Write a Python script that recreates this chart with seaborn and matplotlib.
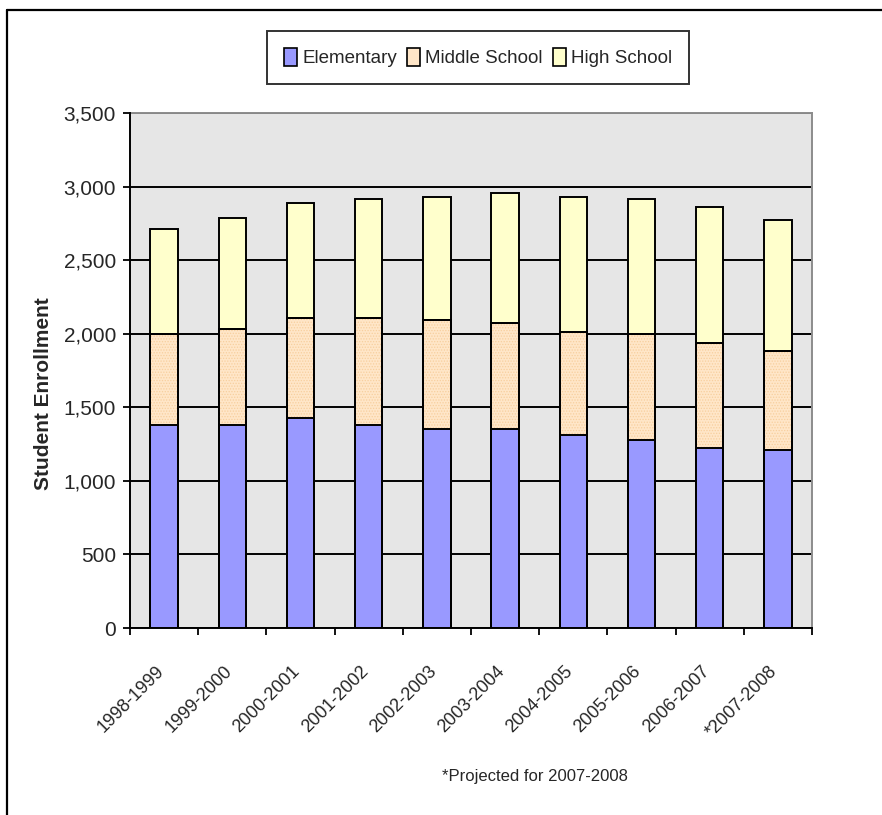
import matplotlib
matplotlib.use("Agg")
import matplotlib.pyplot as plt
import matplotlib.transforms as mtransforms
import seaborn as sns
import numpy as np
import pandas as pd
from matplotlib.patches import Patch
from matplotlib.lines import Line2D
from matplotlib.ticker import FuncFormatter

# Enrollment by school level, per school year
years = ["1998-1999", "1999-2000", "2000-2001", "2001-2002", "2002-2003",
         "2003-2004", "2004-2005", "2005-2006", "2006-2007", "*2007-2008"]
elementary = [1380, 1380, 1425, 1380, 1350, 1350, 1310, 1280, 1225, 1210]
middle_school = [620, 650, 680, 725, 740, 725, 705, 720, 710, 670]
high_school = [715, 755, 780, 810, 840, 880, 915, 915, 925, 895]
series_names = ["Elementary", "Middle School", "High School"]
y_ticks = [0, 500, 1000, 1500, 2000, 2500, 3000, 3500]

ELEM_COLOR = "#9999FF"
MID_COLOR = "#FFE6C8"
MID_DOTS = "#F7CF9E"
HIGH_COLOR = "#FFFFCC"

sns.set_theme(style="ticks")
plt.rcParams["font.family"] = ["Liberation Sans", "DejaVu Sans"]
plt.rcParams["hatch.linewidth"] = 0.6

df = pd.DataFrame({
    "Year": years,
    "Elementary": elementary,
    "Middle School": middle_school,
    "High School": high_school,
})
df["mid_top"] = df["Elementary"] + df["Middle School"]
df["total"] = df["mid_top"] + df["High School"]

W, H = 882, 815
fig = plt.figure(figsize=(W / 100, H / 100), dpi=100)
ax = fig.add_axes([130 / W, 1 - 628 / H, (812 - 130) / W, (628 - 113) / H])
ax.set_facecolor("#E6E6E6")

BAR_W = 0.4
# Stacked bars: draw cumulative heights from the top layer down
sns.barplot(data=df, x="Year", y="total", color=HIGH_COLOR, saturation=1, width=BAR_W,
            edgecolor="black", linewidth=1.4, errorbar=None, ax=ax, zorder=3)
sns.barplot(data=df, x="Year", y="mid_top", color=MID_COLOR, saturation=1, width=BAR_W,
            edgecolor="black", linewidth=1.4, errorbar=None, ax=ax, zorder=3)
# fine dotted texture on the middle-school segment
ax.bar(np.arange(len(years)), df["mid_top"], width=BAR_W - 0.02, facecolor="none",
       edgecolor=MID_DOTS, linewidth=0, hatch="......", zorder=3.5)
sns.barplot(data=df, x="Year", y="Elementary", color=ELEM_COLOR, saturation=1, width=BAR_W,
            edgecolor="black", linewidth=1.4, errorbar=None, ax=ax, zorder=4)
ax.bar(np.arange(len(years)), df["mid_top"], width=BAR_W, facecolor="none",
       edgecolor="black", linewidth=1.4, zorder=4.5)

ax.set_xlim(-0.5, len(years) - 0.5)
ax.set_ylim(0, 3500)
ax.set_yticks(y_ticks)
ax.yaxis.set_major_formatter(FuncFormatter(lambda v, p: f"{int(v):,}"))
ax.yaxis.grid(True, color="black", linewidth=1.4)
ax.set_axisbelow(True)

for side in ("left", "bottom"):
    ax.spines[side].set_color("black")
    ax.spines[side].set_linewidth(1.4)
    ax.spines[side].set_zorder(6)
for side in ("top", "right"):
    ax.spines[side].set_visible(True)
    ax.spines[side].set_color("#8C8C8C")
    ax.spines[side].set_linewidth(1.4)

ax.tick_params(axis="y", which="major", direction="out", length=5, width=1.3,
               color="black", labelsize=15, pad=5, left=True)

ax.set_xticks(range(len(years)))
ax.set_xticklabels(years, rotation=45, ha="right", va="top", rotation_mode="anchor")
ax.set_xticks(np.arange(-0.5, len(years), 1), minor=True)
ax.tick_params(axis="x", which="major", length=0, labelsize=13, pad=25)
ax.tick_params(axis="x", which="minor", direction="out", length=5, width=1.3,
               color="black", bottom=True)
shift = mtransforms.ScaledTranslation(-9 / 100, 0, fig.dpi_scale_trans)
for lbl in ax.get_xticklabels():
    lbl.set_transform(lbl.get_transform() + shift)
ax.set_xlabel("")
ax.set_ylabel("")

fig.text(44 / W, 1 - 394 / H, "Student Enrollment", rotation=90, ha="center",
         va="center", fontsize=15, fontweight="bold")

handles = [Patch(facecolor=c, edgecolor="black", linewidth=1.2)
           for c in (ELEM_COLOR, MID_COLOR, HIGH_COLOR)]
leg = fig.legend(handles, series_names, loc="center",
                 bbox_to_anchor=(478 / W, 1 - 57.5 / H), ncol=3, frameon=True,
                 fancybox=False, edgecolor="black", fontsize=13.5,
                 handlelength=0.7, handleheight=1.1, handletextpad=0.25,
                 columnspacing=0.55, borderpad=0.9)
leg.get_frame().set_linewidth(1.4)

fig.text(535 / W, 1 - 777 / H, "*Projected for 2007-2008", ha="center",
         va="center", fontsize=12)

# Outer frame (left and top edges)
fig.add_artist(Line2D([7 / W, 7 / W], [0, 1 - 10 / H], transform=fig.transFigure,
                      color="black", linewidth=1.6))
fig.add_artist(Line2D([7 / W, 1], [1 - 10 / H, 1 - 10 / H], transform=fig.transFigure,
                      color="black", linewidth=1.6))

fig.savefig("out.png", dpi=100)
